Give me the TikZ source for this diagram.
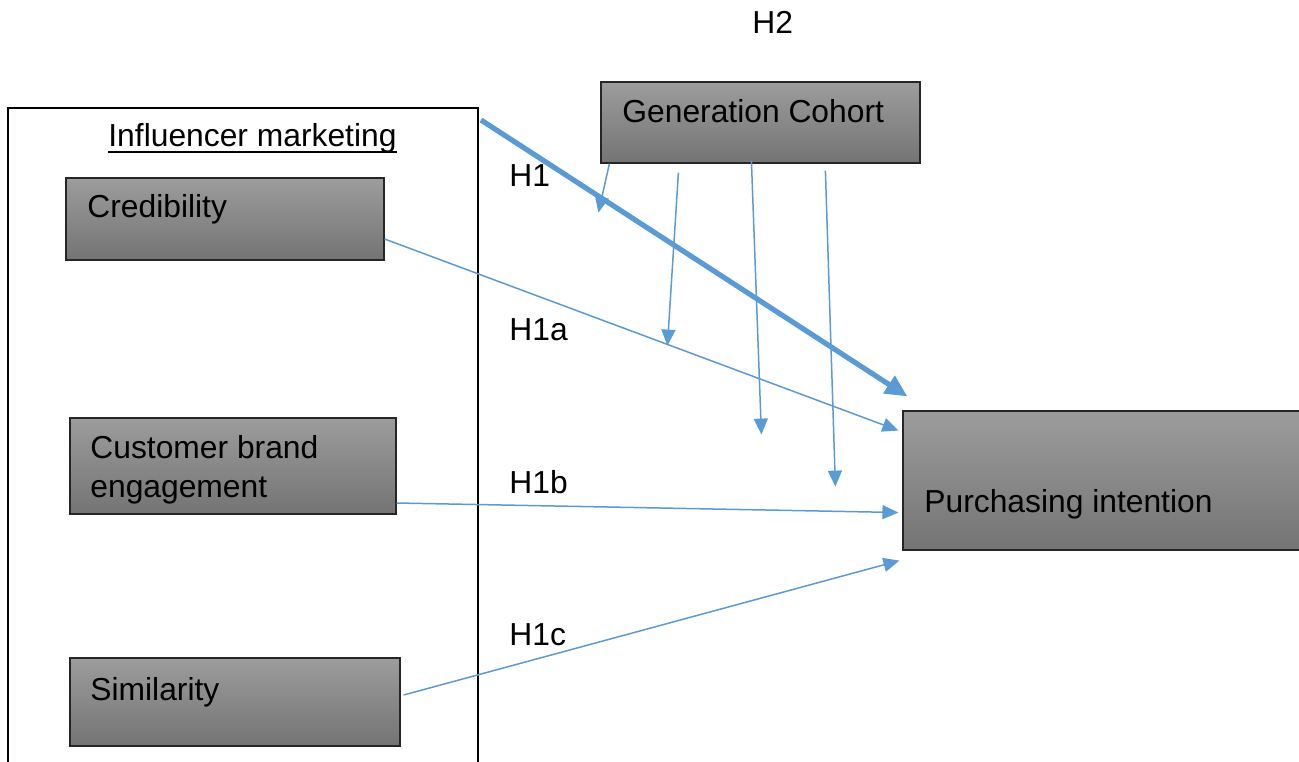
\documentclass[tikz,border=0pt]{standalone}
\usepackage{fontspec}
\setmainfont{Liberation Sans}
\usetikzlibrary{arrows.meta,calc}
\definecolor{arrowblue}{RGB}{91,155,213}
\definecolor{boxtop}{RGB}{156,156,156}
\definecolor{boxbottom}{RGB}{116,116,116}
\tikzset{
  box/.style={draw=black!85, line width=0.6pt, top color=boxtop, bottom color=boxbottom,
    inner sep=0pt, anchor=center},
  frame/.style={draw=black, line width=1pt, inner sep=0pt},
  txt/.style={anchor=base west, inner sep=0pt, font=\fontsize{15.9pt}{19.5pt}\selectfont, text=black},
  link/.style={draw=arrowblue, line width=0.75pt, -{Triangle[length=8pt,width=7pt]}},
  mainlink/.style={draw=arrowblue, line width=2.6pt, -{Triangle[length=11pt,width=10pt]}},
}
\begin{document}
\begin{tikzpicture}[x=0.5pt,y=-0.5pt]
\useasboundingbox (0,0) rectangle (1299,761);
\clip (0,0) rectangle (1299,761);

% outer frame of the influencer marketing block
\node[frame, minimum width=235pt, minimum height=336pt] (outer) at (243,444) {};

% construct boxes
\node[box, minimum width=159pt, minimum height=41pt] (cred) at (225,219) {};
\node[box, minimum width=163pt, minimum height=48pt] (cbe) at (233,466) {};
\node[box, minimum width=165pt, minimum height=44pt] (sim) at (235,702) {};
\node[box, minimum width=159.5pt, minimum height=40.5pt] (gen) at (760.5,122.5) {};
\node[box, minimum width=203pt, minimum height=69.5pt] (pur) at (1106,480.5) {};

% box texts
\node[txt] (tinf) at (108,146) {Influencer marketing};
\draw[line width=0.6pt] ([yshift=-3pt]tinf.base west) -- ([yshift=-3pt]tinf.base east);
\node[txt] (tcred) at (87,217) {Credibility};
\node[txt, align=left] (tcbe) at (90,497) {Customer brand\\engagement};
\node[txt] (tsim) at (90,700) {Similarity};
\node[txt] (tgen) at (622,122) {Generation Cohort};
\node[txt] (tpur) at (924,512) {Purchasing intention};

% hypothesis labels
\node[txt] (h2) at (752,33) {H2};
\node[txt] (h1) at (509,186) {H1};
\node[txt] (h1a) at (509,340) {H1a};
\node[txt] (h1b) at (509,493) {H1b};
\node[txt] (h1c) at (509,645) {H1c};

% main effect
\draw[mainlink] ([xshift=1pt,yshift=-6.5pt]outer.north east) -- ([xshift=2.5pt,yshift=7pt]pur.north west);

% dimension effects
\draw[link] ([yshift=-10pt]cred.east) -- ([xshift=-2pt,yshift=25pt]pur.west);
\draw[link] ([yshift=-18.5pt]cbe.east) -- ([xshift=-2pt,yshift=-16pt]pur.west);
\draw[link] ([xshift=1.5pt,yshift=3.5pt]sim.east) -- ([xshift=-1.5pt,yshift=-5pt]pur.south west);

% moderation by generation cohort
\coordinate (m1) at ([xshift=-1pt,yshift=-24.5pt]gen.south west);
\coordinate (m2) at ([xshift=33.5pt,yshift=-91pt]gen.south west);
\coordinate (m3) at ([xshift=80.5pt,yshift=-135.5pt]gen.south west);
\coordinate (m4) at ([xshift=117.5pt,yshift=-161.5pt]gen.south west);
\draw[link] ([xshift=4.5pt]gen.south west) -- (m1);
\draw[link] ([xshift=39pt,yshift=-4.5pt]gen.south west) -- (m2);
\draw[link] ([xshift=75.5pt,yshift=1.5pt]gen.south west) -- (m3);
\draw[link] ([xshift=112.5pt,yshift=-3.5pt]gen.south west) -- (m4);
\end{tikzpicture}
\end{document}
